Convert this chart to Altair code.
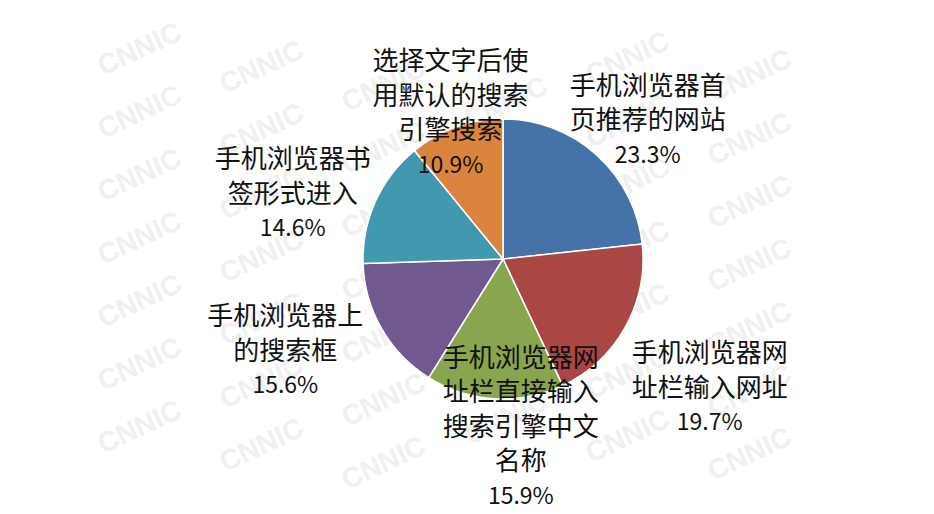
import altair as alt

# ---- data ----
categories = [
    "手机浏览器首页推荐的网站",
    "手机浏览器网址栏输入网址",
    "手机浏览器网址栏直接输入搜索引擎中文名称",
    "手机浏览器上的搜索框",
    "手机浏览器书签形式进入",
    "选择文字后使用默认的搜索引擎搜索",
]
label_lines = [
    "手机浏览器首|页推荐的网站",
    "手机浏览器网|址栏输入网址",
    "手机浏览器网|址栏直接输入|搜索引擎中文|名称",
    "手机浏览器上|的搜索框",
    "手机浏览器书|签形式进入",
    "选择文字后使|用默认的搜索|引擎搜索",
]
values = [23.3, 19.7, 15.9, 15.6, 14.6, 10.9]

# ---- styles / layout ----
colors = ["#4572A7", "#AA4643", "#89A54E", "#71588F", "#4198AF", "#DB843D"]
# label radius and nudge of the label block centre, per slice (layout only)
label_layout = [
    (200, 11, 11),
    (244, -6, 10),
    (170, 28, -1),
    (236, -13, -25),
    (220, -10, 27),
    (156, 0, 2),
]
LH = 34.5
FONT = "Noto Sans CJK SC"
PAD_L, PAD_T, W, H = 72, 0, 846, 502

records = [
    {"category": c, "lines": l, "value": v, "order": i}
    for i, (c, l, v) in enumerate(zip(categories, label_lines, values))
]
data = alt.Data(values=records)

pie = alt.Chart(data).mark_arc(outerRadius=140, stroke="white", strokeWidth=1.5).encode(
    theta=alt.Theta("value:Q", stack=True),
    color=alt.Color("category:N", scale=alt.Scale(domain=categories, range=colors), legend=None),
    order=alt.Order("order:Q"),
)

label_base = (
    alt.Chart(data)
    .transform_joinaggregate(total="sum(value)")
    .transform_window(cum="sum(value)", sort=[alt.SortField("order")], frame=[None, 0])
    .transform_calculate(
        mid="(datum.cum - datum.value / 2) / datum.total",
        txt="split(datum.lines, '|')",
        pct="format(datum.value, '.1f') + '%'",
    )
)
theta_mid = alt.Theta("mid:Q", stack=False, scale=alt.Scale(domain=[0, 1]))

label_layers = []
for cat, lines, (r, dx, dy) in zip(categories, label_lines, label_layout):
    n = lines.count("|") + 1
    sel = label_base.transform_filter(alt.datum.category == cat)
    label_layers.append(
        sel.mark_text(
            radius=r, dx=dx, dy=dy - n / 2 * LH, font=FONT, fontSize=26, lineHeight=LH,
            align="center", baseline="middle", color="#111111",
        ).encode(theta=theta_mid, text="txt:N")
    )
    label_layers.append(
        sel.mark_text(
            radius=r, dx=dx, dy=dy + n / 2 * LH, font=FONT, fontSize=23,
            align="center", baseline="middle", color="#111111",
        ).encode(theta=theta_mid, text="pct:N")
    )

# faint background watermark (decoration), kept inside the view
wm = []
for col in range(7):
    for row in range(8):
        px = 140 + 122 * col
        py = 50 + 63 * row + (18 * col) % 63
        if py <= 470 and px <= 870:
            wm.append({"wx": px - 8 - PAD_L, "wy": py - 8 - PAD_T})
watermark = alt.Chart(alt.Data(values=wm)).mark_text(
    text="CNNIC", font="Liberation Sans", fontSize=28, fontWeight="bold",
    angle=335, color="#f0f0f0",
).encode(
    x=alt.X("wx:Q", scale=None),
    y=alt.Y("wy:Q", scale=None),
)

chart = (
    alt.layer(watermark, pie, *label_layers)
    .resolve_scale(theta="independent")
    .properties(
        width=W, height=H,
        autosize=alt.AutoSizeParams(type="none"),
        padding={"left": PAD_L, "top": PAD_T, "right": 0, "bottom": 0},
        background="white",
    )
    .configure_view(stroke=None)
)

chart.save("out.html", embed_options={"renderer": "svg", "actions": False})
